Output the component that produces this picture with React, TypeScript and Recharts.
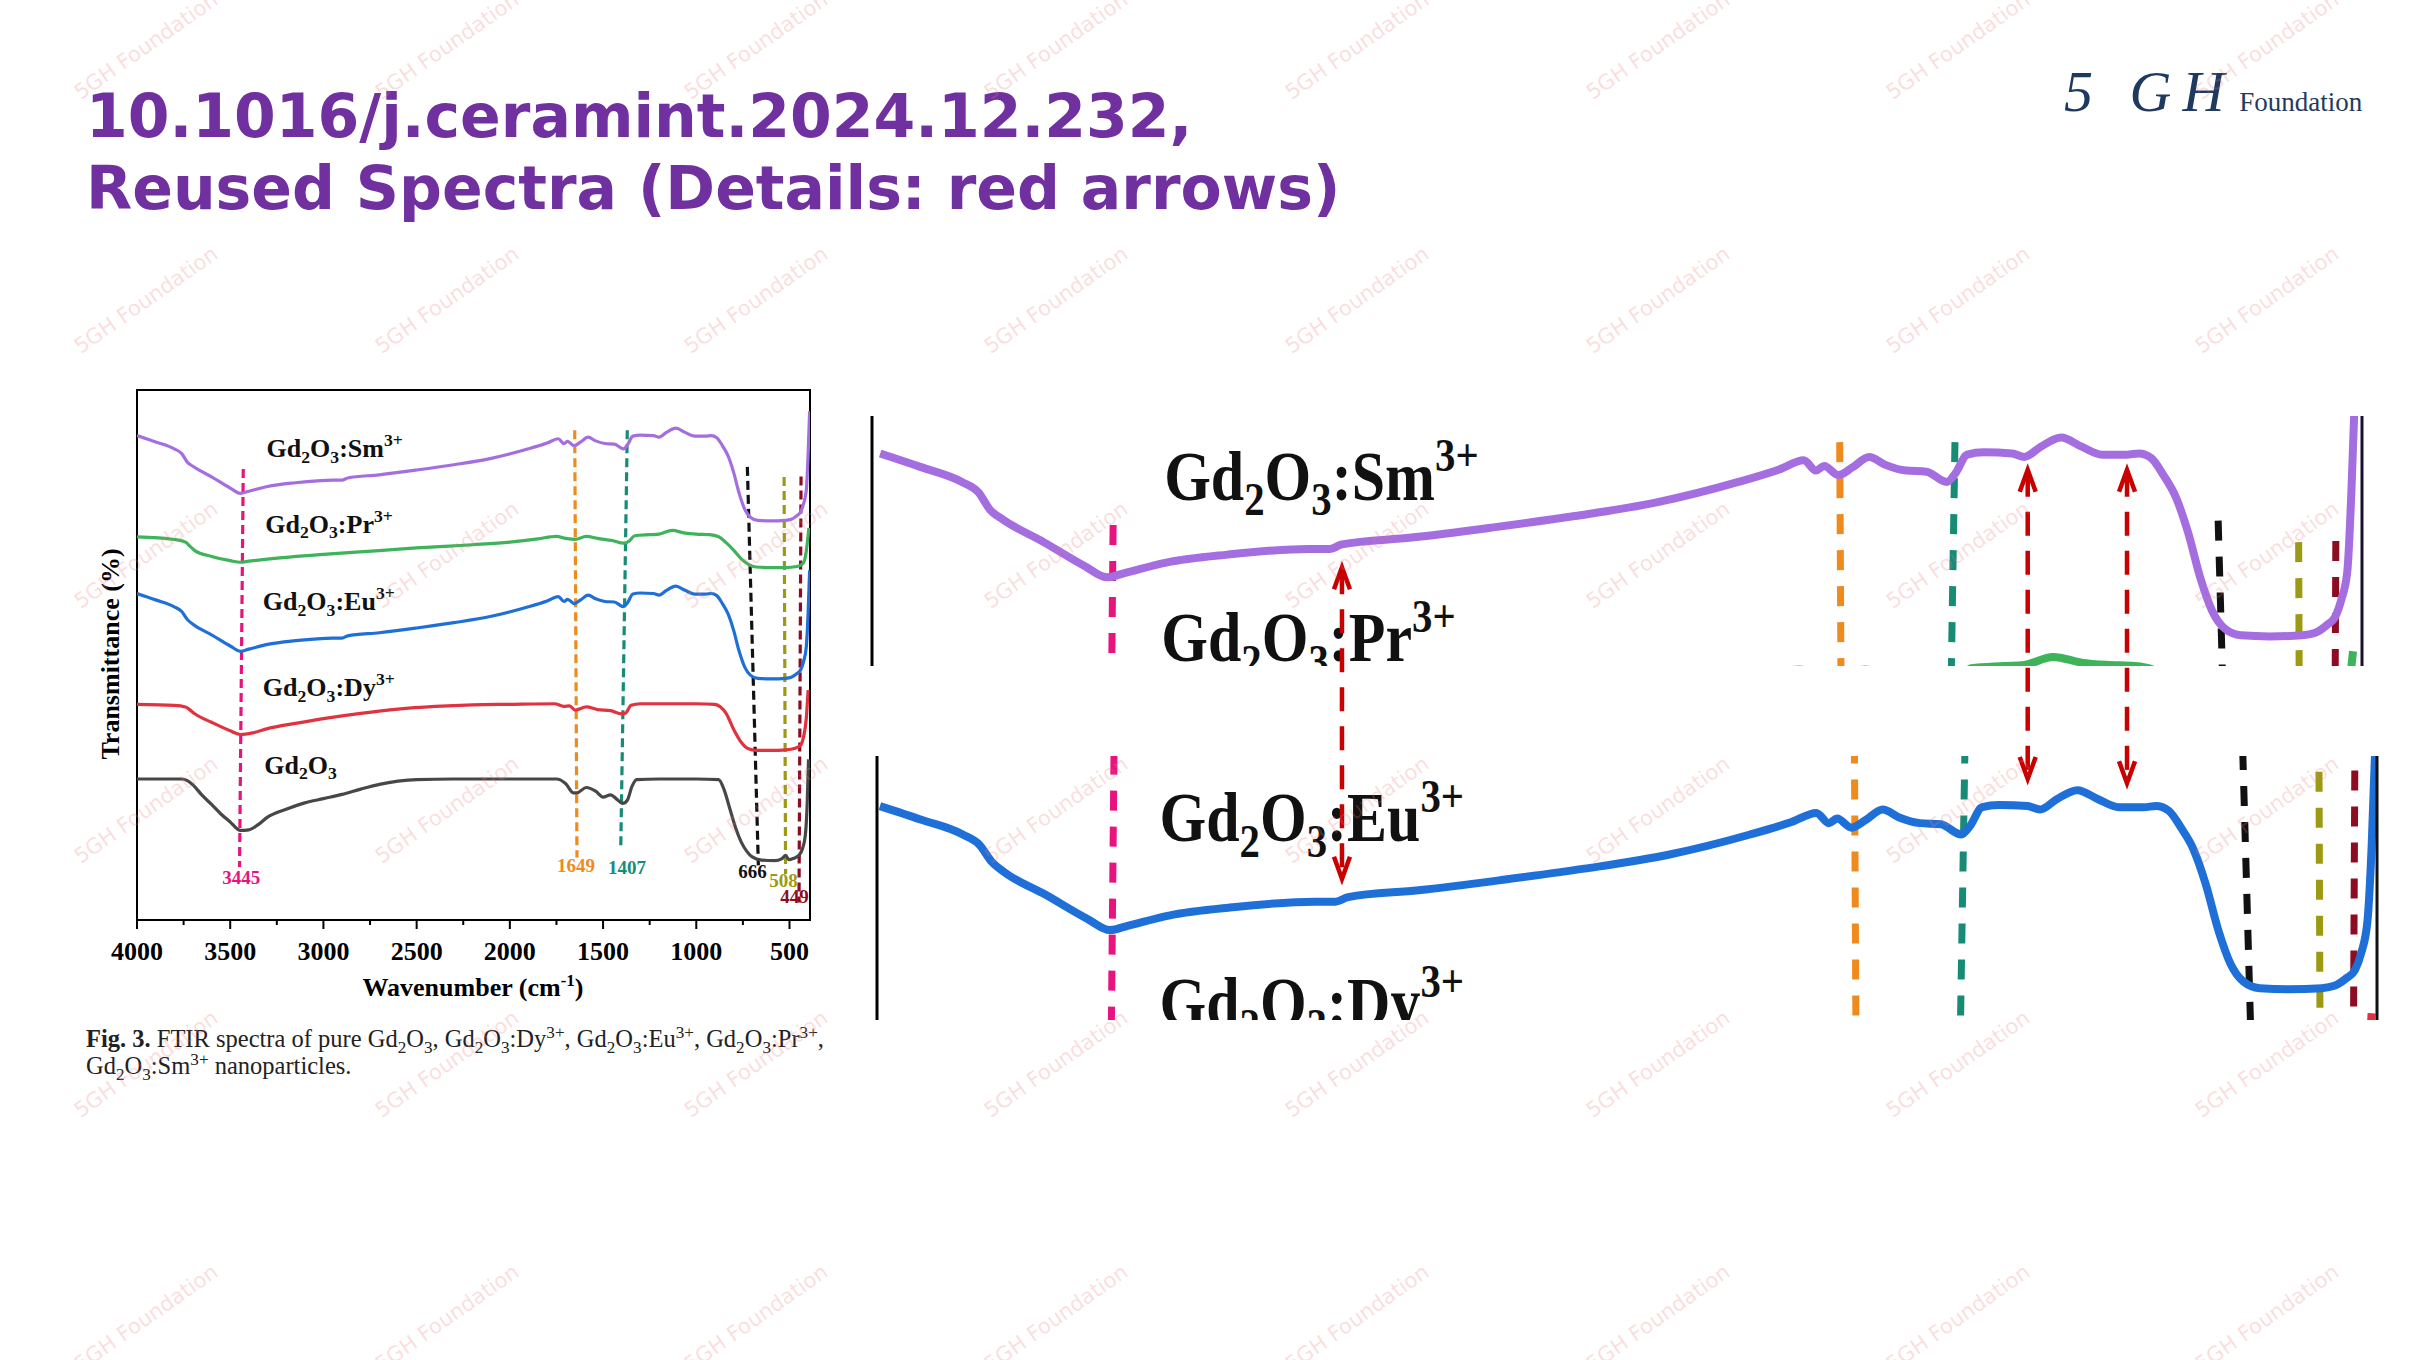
import React from 'react';
import { LineChart, Line, XAxis, YAxis, ReferenceLine, ReferenceDot, ReferenceArea } from 'recharts';

// FTIR spectra: [wavenumber cm-1, transmittance (offset, a.u.)]
const smSpectrum: [number, number][] = [
  [4000, 91.4], [3900, 90.2], [3800, 88.9], [3760, 88.0], [3730, 86.4], [3700, 85.6], [3600, 83.6],
  [3500, 81.5], [3445, 80.5], [3400, 80.9], [3300, 81.8], [3150, 82.5], [2950, 83.0], [2900, 83.0],
  [2870, 83.4], [2700, 84.0], [2500, 84.9], [2300, 85.9], [2100, 87.1], [1900, 88.9], [1800, 90.0],
  [1740, 90.8], [1710, 89.9], [1690, 90.3], [1655, 89.5], [1620, 90.2], [1580, 91.1], [1540, 90.4],
  [1490, 89.9], [1440, 89.8], [1390, 88.9], [1370, 89.6], [1340, 91.3], [1300, 91.5], [1230, 91.4],
  [1200, 91.1], [1160, 92.0], [1110, 92.8], [1060, 92.0], [1010, 91.3], [950, 91.3], [920, 91.4],
  [890, 91.0], [860, 89.5], [830, 87.6], [800, 84.5], [770, 80.5], [740, 77.5], [710, 76.0],
  [670, 75.4], [600, 75.3], [520, 75.4], [490, 75.6], [460, 76.3], [440, 77.0], [425, 78.5],
  [410, 81.0], [400, 88.0], [392, 96.0],
];
const prSpectrum: [number, number][] = [
  [4000, 72.3], [3800, 71.8], [3740, 71.3], [3715, 70.5], [3690, 69.7], [3600, 68.6], [3500, 67.8],
  [3445, 67.5], [3400, 67.7], [3300, 68.1], [3000, 69.0], [2700, 69.7], [2500, 70.2], [2200, 70.8],
  [2000, 71.3], [1850, 71.9], [1750, 72.4], [1700, 72.0], [1649, 71.8], [1590, 72.4], [1530, 72.0],
  [1450, 71.6], [1390, 71.1], [1360, 71.5], [1330, 72.5], [1250, 72.7], [1200, 72.8], [1130, 73.5],
  [1060, 73.0], [1000, 72.8], [930, 72.7], [880, 72.3], [840, 71.2], [800, 69.8], [760, 68.2],
  [720, 67.1], [680, 66.6], [600, 66.5], [520, 66.5], [460, 66.7], [430, 67.2], [415, 68.5],
  [405, 71.0], [396, 74.0],
];
const euSpectrum: [number, number][] = [
  [4000, 61.6], [3900, 60.4], [3800, 59.1], [3760, 58.2], [3730, 56.7], [3700, 55.8], [3600, 53.8],
  [3500, 51.7], [3445, 50.7], [3400, 51.1], [3300, 52.0], [3150, 52.7], [2950, 53.2], [2900, 53.2],
  [2870, 53.6], [2700, 54.2], [2500, 55.1], [2300, 56.1], [2100, 57.3], [1900, 59.1], [1800, 60.2],
  [1740, 61.0], [1710, 60.1], [1690, 60.5], [1655, 59.7], [1620, 60.4], [1580, 61.3], [1540, 60.6],
  [1490, 60.1], [1440, 60.0], [1390, 59.1], [1370, 59.8], [1340, 61.5], [1300, 61.7], [1230, 61.6],
  [1200, 61.3], [1160, 62.2], [1110, 63.0], [1060, 62.2], [1010, 61.5], [950, 61.5], [920, 61.6],
  [890, 61.2], [860, 59.7], [830, 57.8], [800, 54.7], [770, 50.7], [740, 47.7], [710, 46.2],
  [670, 45.6], [600, 45.5], [520, 45.6], [490, 45.8], [460, 46.5], [440, 47.2], [425, 48.7],
  [410, 51.5], [400, 58.0], [392, 66.0],
];
const dySpectrum: [number, number][] = [
  [4000, 40.7], [3800, 40.5], [3740, 40.2], [3715, 39.6], [3690, 38.9], [3600, 37.3], [3500, 35.7],
  [3445, 35.0], [3380, 35.3], [3300, 36.1], [3150, 37.1], [3000, 38.0], [2800, 39.0], [2600, 39.8],
  [2400, 40.3], [2200, 40.6], [2000, 40.7], [1760, 40.8], [1710, 40.3], [1680, 40.4], [1649, 39.6],
  [1590, 40.2], [1530, 39.7], [1460, 39.5], [1400, 38.9], [1380, 39.0], [1350, 40.5], [1300, 40.8],
  [1000, 40.8], [900, 40.7], [870, 40.2], [840, 39.0], [800, 36.0], [760, 33.6], [720, 32.3],
  [680, 32.0], [600, 32.0], [520, 32.1], [470, 32.4], [440, 33.0], [425, 34.5], [410, 38.0], [400, 43.4],
];
const gdSpectrum: [number, number][] = [
  [4000, 26.6], [3760, 26.6], [3730, 26.3], [3700, 25.5], [3650, 23.5], [3600, 21.8], [3550, 20.0],
  [3500, 18.5], [3445, 16.9], [3400, 17.0], [3350, 18.0], [3300, 19.4], [3200, 20.9], [3100, 22.1],
  [3000, 22.9], [2900, 23.7], [2800, 24.7], [2700, 25.6], [2600, 26.2], [2500, 26.5], [2300, 26.6],
  [2000, 26.6], [1750, 26.6], [1700, 25.7], [1660, 24.0], [1640, 24.0], [1590, 25.0], [1540, 24.3],
  [1500, 23.2], [1460, 23.6], [1420, 22.6], [1395, 22.0], [1370, 22.6], [1345, 25.2], [1320, 26.5],
  [1200, 26.6], [1000, 26.6], [880, 26.5], [850, 24.5], [820, 21.0], [790, 17.5], [760, 14.8],
  [730, 13.0], [700, 11.9], [650, 11.3], [580, 11.2], [540, 11.6], [520, 12.2], [505, 11.4],
  [480, 11.6], [450, 12.2], [430, 13.5], [415, 16.0], [405, 22.0], [398, 30.3],
];

const sampleDopants = ['Sm', 'Pr', 'Eu', 'Dy', ''];
const sampleColors = ['#a46ee0', '#3db35a', '#1f6fd8', '#e0323f', '#474747'];
const sampleSpectra = [smSpectrum, prSpectrum, euSpectrum, dySpectrum, gdSpectrum];
const labelWn = [3305, 3312, 3325, 3325, 3317];
const labelT = [87.3, 73.1, 58.5, 42.3, 27.6];

// assigned bands and their dashed guide lines (top / bottom of each dashed segment)
const peakLabels = ['3445', '1649', '1407', '666', '508', '449'];
const peakColors = ['#e8137e', '#ef8a1c', '#168c76', '#111111', '#9c9a12', '#8e0c22'];
const guideTop: [number, number][] = [[3430, 85.1], [1652, 92.4], [1370, 92.4], [726, 85.5], [529, 83.6], [438, 83.7]];
const guideBottom: [number, number][] = [[3450, 10], [1640, 11.8], [1405, 13.7], [667, 10.3], [521, 8.7], [449, 3.3]];
const peakLabelWn = [3441, 1645, 1371, 699, 532, 473];
const peakLabelT = [6.8, 9.0, 8.7, 7.9, 6.2, 3.2];

const xTicks = [4000, 3750, 3500, 3250, 3000, 2750, 2500, 2250, 2000, 1750, 1500, 1250, 1000, 750, 500];

// red arrows linking the two enlarged panels
const arrowWn = [2870, 1192, 949];
const arrowTop = [75, 91.1, 91.1];
const arrowBottom = [23.5, 40, 39.3];

const series = sampleSpectra.map((s, i) => ({
  dopant: sampleDopants[i],
  color: sampleColors[i],
  points: s.map(([wn, t]) => ({ wn, t })),
}));

const SERIF = "'Liberation Serif', 'Times New Roman', serif";

function Formula({ x, y, dopant, size, stretch = 1 }: any) {
  const sub = size * 0.68;
  const d = size * 0.22;
  const u = size * 0.42;
  return (
    <g transform={`translate(${x},${y}) scale(1,${stretch})`}>
      <text x={0} y={0} fontFamily={SERIF} fontWeight={700} fontSize={size} fill="#111">
        Gd
        <tspan fontSize={sub} dy={d}>2</tspan>
        <tspan dy={-d}>O</tspan>
        <tspan fontSize={sub} dy={d}>3</tspan>
        {dopant ? <tspan dy={-d}>:{dopant}</tspan> : null}
        {dopant ? <tspan fontSize={sub} dy={-u}>3+</tspan> : null}
      </text>
    </g>
  );
}

const WaveTick = (props: any) => {
  const { x, y, payload } = props;
  const major = payload.value % 500 === 0;
  return (
    <g>
      <line x1={x} x2={x} y1={y} y2={y + (major ? 9 : 5)} stroke="#000" strokeWidth={2} />
      {major && (
        <text x={x} y={y + 40} textAnchor="middle" fontFamily={SERIF} fontWeight={700} fontSize={26} fill="#000">
          {payload.value}
        </text>
      )}
    </g>
  );
};

const ArrowShape = (p: any) => {
  const { x1, y1, y2 } = p;
  const top = Math.min(y1, y2);
  const bot = Math.max(y1, y2);
  const w = 8;
  const h = 22;
  return (
    <g stroke="#c80000" strokeWidth={4.5} fill="none" strokeLinecap="butt">
      <line x1={x1} x2={x1} y1={top + 3} y2={bot - 3} strokeDasharray="24 15" />
      <path d={`M${x1 - w},${top + h} L${x1},${top} L${x1 + w},${top + h}`} />
      <path d={`M${x1 - w},${bot - h} L${x1},${bot} L${x1 + w},${bot - h}`} />
    </g>
  );
};

function spectrumLayers(lineWidth: number, guideWidth: number, dash: string, labelSize: number, stretch: number, withPeakText: boolean) {
  const out: any[] = [];
  peakColors.forEach((c, i) => {
    out.push(
      <ReferenceLine
        key={`g${i}`}
        segment={[{ x: guideTop[i][0], y: guideTop[i][1] }, { x: guideBottom[i][0], y: guideBottom[i][1] }]}
        stroke={c}
        strokeWidth={guideWidth}
        strokeDasharray={dash}
        ifOverflow="hidden"
      />
    );
  });
  series.forEach((s, i) => {
    out.push(
      <Line
        key={`s${i}`}
        data={s.points}
        dataKey="t"
        type="monotone"
        stroke={s.color}
        strokeWidth={lineWidth}
        dot={false}
        activeDot={false}
        isAnimationActive={false}
      />
    );
  });
  series.forEach((s, i) => {
    out.push(
      <ReferenceDot
        key={`l${i}`}
        x={labelWn[i]}
        y={labelT[i]}
        r={0}
        ifOverflow="visible"
        shape={(p: any) => <Formula x={p.cx} y={p.cy} dopant={s.dopant} size={labelSize} stretch={stretch} />}
      />
    );
  });
  if (withPeakText) {
    peakLabels.forEach((t, i) => {
      out.push(
        <ReferenceDot
          key={`p${i}`}
          x={peakLabelWn[i]}
          y={peakLabelT[i]}
          r={0}
          ifOverflow="visible"
          shape={(p: any) => (
            <text x={p.cx} y={p.cy} textAnchor="middle" fontFamily={SERIF} fontWeight={700} fontSize={19} fill={peakColors[i]}>
              {t}
            </text>
          )}
        />
      );
    });
  }
  return out;
}

const wmCols = [146, 447, 756, 1056, 1357, 1658, 1958, 2267];
const wmRows = [46, 300, 555, 810, 1064, 1318];

const subStyle: React.CSSProperties = { fontSize: '0.7em', lineHeight: 0 };

export default function App() {
  return (
    <div style={{ position: 'absolute', left: 0, top: 0, width: 2418, height: 1360, background: '#fff', overflow: 'hidden' }}>
      {/* title */}
      <div
        style={{
          position: 'absolute', left: 86, top: 80, fontFamily: "'DejaVu Sans', sans-serif", fontWeight: 700,
          fontSize: 60, lineHeight: '72px', color: '#7030a0', whiteSpace: 'nowrap',
        }}
      >
        10.1016/j.ceramint.2024.12.232,
        <br />
        Reused Spectra (Details: red arrows)
      </div>

      {/* logo */}
      <div style={{ position: 'absolute', left: 2064, top: 58, color: '#1f3a60', whiteSpace: 'nowrap', fontFamily: SERIF }}>
        <span style={{ fontStyle: 'italic', fontSize: 58, letterSpacing: 11 }}>5 GH</span>
        <span style={{ fontSize: 27, marginLeft: 4 }}>Foundation</span>
      </div>

      {/* original figure */}
      <div style={{ position: 'absolute', left: 60, top: 370 }}>
        <LineChart width={800} height={650} margin={{ top: 20, right: 50, bottom: 30, left: 77 }}>
          <XAxis
            dataKey="wn"
            type="number"
            domain={[390, 4000]}
            reversed
            allowDataOverflow
            ticks={xTicks}
            interval={0}
            tickSize={0}
            tickMargin={0}
            tick={<WaveTick />}
            tickLine={false}
            axisLine={{ stroke: '#000', strokeWidth: 2 }}
            height={70}
          />
          <YAxis type="number" domain={[0, 100]} allowDataOverflow hide />
          {spectrumLayers(3.2, 3.2, '9 5', 26, 1, true)}
          <ReferenceArea x1={390} x2={4000} y1={0} y2={100} fill="none" stroke="#000" strokeWidth={2} ifOverflow="visible" />
        </LineChart>
      </div>
      <div
        style={{
          position: 'absolute', left: 111, top: 654, transform: 'translate(-50%,-50%) rotate(-90deg)',
          fontFamily: SERIF, fontWeight: 700, fontSize: 26, whiteSpace: 'nowrap', color: '#000',
        }}
      >
        Transmittance (%)
      </div>
      <div
        style={{
          position: 'absolute', left: 473, top: 987, transform: 'translate(-50%,-50%)',
          fontFamily: SERIF, fontWeight: 700, fontSize: 26, whiteSpace: 'nowrap', color: '#000',
        }}
      >
        Wavenumber (cm<sup style={{ fontSize: 17 }}>-1</sup>)
      </div>
      <div
        style={{
          position: 'absolute', left: 86, top: 1025, fontFamily: SERIF, fontSize: 24.5,
          lineHeight: '27px', color: '#222', whiteSpace: 'nowrap',
        }}
      >
        <b>Fig. 3.</b> FTIR spectra of pure Gd<sub style={subStyle}>2</sub>O<sub style={subStyle}>3</sub>, Gd<sub style={subStyle}>2</sub>O<sub style={subStyle}>3</sub>:Dy<sup style={subStyle}>3+</sup>,
        Gd<sub style={subStyle}>2</sub>O<sub style={subStyle}>3</sub>:Eu<sup style={subStyle}>3+</sup>, Gd<sub style={subStyle}>2</sub>O<sub style={subStyle}>3</sub>:Pr<sup style={subStyle}>3+</sup>,
        <br />
        Gd<sub style={subStyle}>2</sub>O<sub style={subStyle}>3</sub>:Sm<sup style={subStyle}>3+</sup> nanoparticles.
      </div>

      {/* enlarged Sm panel */}
      <div style={{ position: 'absolute', left: 868, top: 416 }}>
        <LineChart width={1498} height={250} margin={{ top: 0, right: 4, bottom: 0, left: 4 }}>
          <XAxis dataKey="wn" type="number" domain={[374, 4020]} reversed allowDataOverflow hide />
          <YAxis type="number" domain={[72.7, 94.7]} allowDataOverflow hide />
          {spectrumLayers(8, 7, '20 16', 60, 1.15, false)}
          <ReferenceLine x={4020} stroke="#000" strokeWidth={3} ifOverflow="visible" />
          <ReferenceLine x={374} stroke="#1a1030" strokeWidth={3} ifOverflow="visible" />
        </LineChart>
      </div>

      {/* enlarged Eu panel */}
      <div style={{ position: 'absolute', left: 873, top: 756 }}>
        <LineChart width={1508} height={264} margin={{ top: 0, right: 4, bottom: 0, left: 4 }}>
          <XAxis dataKey="wn" type="number" domain={[387, 4007]} reversed allowDataOverflow hide />
          <YAxis type="number" domain={[42.8, 66]} allowDataOverflow hide />
          {spectrumLayers(8, 7, '20 16', 60, 1.15, false)}
          <ReferenceLine x={4007} stroke="#000" strokeWidth={3} ifOverflow="visible" />
          <ReferenceLine x={387} stroke="#111" strokeWidth={3} ifOverflow="visible" />
        </LineChart>
      </div>

      {/* red arrows */}
      <div style={{ position: 'absolute', left: 868, top: 416 }}>
        <LineChart width={1498} height={605} margin={{ top: 0, right: 4, bottom: 0, left: 4 }}>
          <XAxis dataKey="wn" type="number" domain={[374, 4020]} reversed allowDataOverflow hide />
          <YAxis type="number" domain={[0, 100]} allowDataOverflow hide />
          {arrowWn.map((wn, i) => (
            <ReferenceLine
              key={i}
              segment={[{ x: wn, y: arrowTop[i] }, { x: wn, y: arrowBottom[i] }]}
              ifOverflow="visible"
              shape={ArrowShape}
            />
          ))}
        </LineChart>
      </div>

      {/* watermark */}
      {wmRows.map((r) =>
        wmCols.map((c) => (
          <div
            key={`${r}-${c}`}
            style={{
              position: 'absolute', left: c, top: r, transform: 'translate(-50%,-50%) rotate(-35deg)',
              fontFamily: "'DejaVu Sans', sans-serif", fontSize: 21, color: 'rgba(235,120,120,0.25)',
              whiteSpace: 'nowrap', pointerEvents: 'none',
            }}
          >
            5GH Foundation
          </div>
        ))
      )}
    </div>
  );
}
